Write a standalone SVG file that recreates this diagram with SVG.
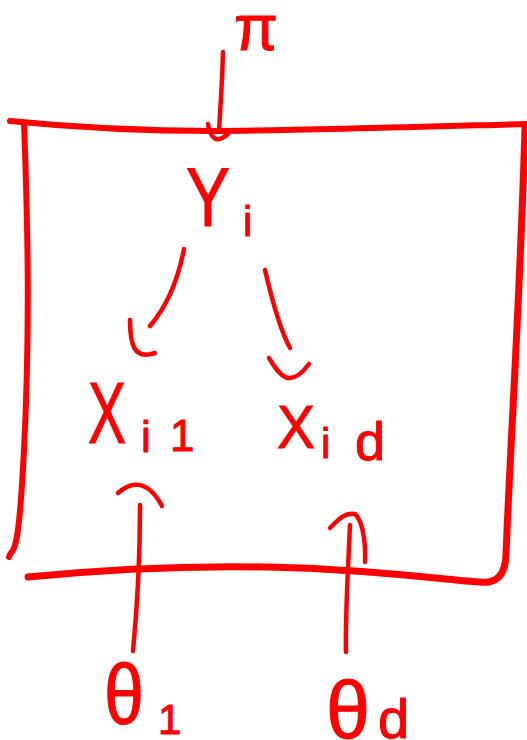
<svg xmlns="http://www.w3.org/2000/svg" width="527" height="740" viewBox="0 0 527 740">
<style>
.ln{fill:none;stroke:#ff0000;stroke-linecap:round;stroke-linejoin:round}
.pl{stroke-width:6}
.cn{stroke-width:4.5}
.t{font-family:"Liberation Sans",Arial,sans-serif;fill:#ff0000;stroke:#ff0000;stroke-width:1}
</style>
<rect width="527" height="740" fill="#ffffff"/>
<g id="plate">
<path class="ln pl" d="M10,121 C80,128 150,131 215,131 S450,126 527,124"/>
<path class="ln pl" d="M24,123 C28,230 30,330 24,450 S12,545 9,557"/>
<path class="ln pl" d="M525,127 C520,300 510,450 506,555 Q505,585 480,582 C440,579 380,571 300,568 S120,568 28,577" style="stroke-width:7"/>
</g>
<g id="connectors">
<path class="ln cn" d="M223,52 C222,90 220,110 219,132"/>
<path class="ln cn" d="M208,124 Q212,148 228,134"/>
<path class="ln cn" d="M184,249 C178,280 168,305 150,326"/>
<path class="ln cn" d="M130,320 C130,345 134,360 155,353"/>
<path class="ln cn" d="M265,270 C272,300 280,330 290,348"/>
<path class="ln cn" d="M269,358 C278,372 288,392 309,364"/>
<path class="ln cn" d="M140,505 C140,560 137,610 133,651"/>
<path class="ln cn" d="M118,493 C130,482 147,478 162,506"/>
<path class="ln cn" d="M350,525 C348,570 345,620 346,652"/>
<path class="ln cn" d="M330,528 C338,520 345,512 355,514 C362,520 366,540 365,562"/>
</g>
<g id="node-pi">
<text class="t" x="234" y="50" font-size="64" textLength="44" lengthAdjust="spacingAndGlyphs">π</text>
</g>
<g id="node-Y">
<text class="t" x="186" y="226" font-size="84" textLength="44" lengthAdjust="spacingAndGlyphs">Y</text>
<text class="t" x="243" y="236" font-size="42">i</text>
</g>
<g id="node-X1">
<text class="t" x="88" y="443" font-size="88" textLength="38" lengthAdjust="spacingAndGlyphs">X</text>
<text class="t" x="141" y="452" font-size="44">i</text>
<text class="t" x="170" y="451" font-size="44">1</text>
</g>
<g id="node-Xd">
<text class="t" x="277" y="448" font-size="62" textLength="38" lengthAdjust="spacingAndGlyphs">X</text>
<text class="t" x="321" y="458" font-size="42">i</text>
<text class="t" x="355" y="460" font-size="54">d</text>
</g>
<g id="node-theta1">
<text class="t" x="104" y="724" font-size="86" textLength="40" lengthAdjust="spacingAndGlyphs">θ</text>
<text class="t" x="158" y="734" font-size="42">1</text>
</g>
<g id="node-thetad">
<text class="t" x="326" y="738" font-size="82" textLength="44" lengthAdjust="spacingAndGlyphs">θ</text>
<text class="t" x="378" y="738" font-size="56">d</text>
</g>
</svg>
